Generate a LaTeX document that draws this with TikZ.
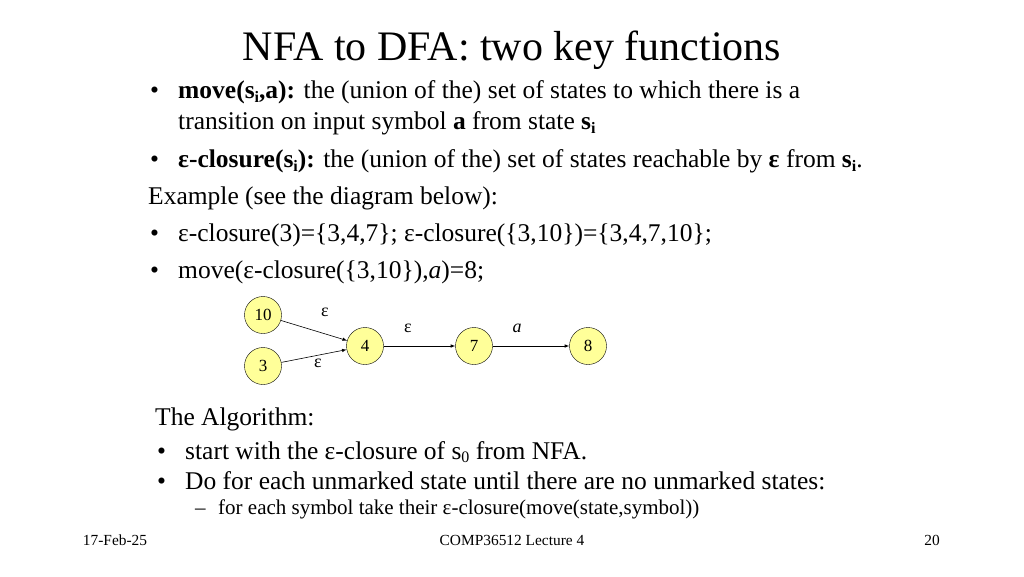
\documentclass[tikz,border=0pt]{standalone}
\usepackage{fontspec}
\setmainfont{Liberation Serif}
\begin{document}
\begin{tikzpicture}[x=1pt,y=-1pt,
  st/.style={circle,draw,fill={rgb,255:red,255;green,255;blue,153},minimum size=37pt,inner sep=0pt,font=\fontsize{17}{18}\selectfont},
  tx/.style={anchor=base west,inner sep=0pt,font=\fontsize{25.5}{28}\selectfont},
  sm/.style={anchor=base west,inner sep=0pt,font=\fontsize{21}{24}\selectfont},
  ft/.style={anchor=base,inner sep=0pt,font=\fontsize{15.4}{17}\selectfont},
  lb/.style={font=\fontsize{18}{20}\selectfont,inner sep=0pt},
  ar/.style={-latex,semithick}]
\useasboundingbox (0,0) rectangle (1024,576);
\node[anchor=base,inner sep=0pt,font=\fontsize{42}{46}\selectfont] (title) at (512,60) {NFA to DFA: two key functions};
\node[tx] (b1) at (150,98) {•};
\node[tx] (l1) at (178,98) {\textbf{move(s\raisebox{-0.4ex}{\fontsize{16}{18}\selectfont i},a):} the (union of the) set of states to which there is a};
\node[tx] (l2) at (178,129) {transition on input symbol \textbf{a} from state \textbf{s\raisebox{-0.4ex}{\fontsize{16}{18}\selectfont i}}};
\node[tx] (b3) at (150,167) {•};
\node[tx] (l3) at (178,167) {\textbf{ε-closure(s\raisebox{-0.4ex}{\fontsize{16}{18}\selectfont i}):} the (union of the) set of states reachable by \textbf{ε} from \textbf{s\raisebox{-0.4ex}{\fontsize{16}{18}\selectfont i}}.};
\node[tx] (ex) at (148,204) {Example (see the diagram below):};
\node[tx] (b4) at (150,241) {•};
\node[tx] (l4) at (178,241) {ε-closure(3)=\{3,4,7\}; ε-closure(\{3,10\})=\{3,4,7,10\};};
\node[tx] (b5) at (150,278) {•};
\node[tx] (l5) at (178,278) {move(ε-closure(\{3,10\}),\textit{a})=8;};

\node[st] (n10) at (263,315) {10};
\node[st] (n3) at (263,366) {3};
\node[st] (n4) at (365,346) {4};
\node[st] (n7) at (474,346) {7};
\node[st] (n8) at (588,346) {8};
\draw[ar] (n10) -- (n4);
\draw[ar] (n3) -- (n4);
\draw[ar] (n4) -- (n7);
\draw[ar] (n7) -- (n8);
\node[lb] (e1) at (325,312) {ε};
\node[lb] (e2) at (318,363) {ε};
\node[lb] (e3) at (408,328) {ε};
\node[lb] (e4) at (517,328) {\textit{a}};

\node[tx] (alg) at (155,425) {The Algorithm:};
\node[tx] (b6) at (157,459) {•};
\node[tx] (l6) at (185,459) {start with the ε-closure of s\raisebox{-0.3ex}{\fontsize{16}{18}\selectfont 0} from NFA.};
\node[tx] (b7) at (157,489) {•};
\node[tx] (l7) at (185,489) {Do for each unmarked state until there are no unmarked states:};
\node[sm] (d8) at (195,514) {–};
\node[sm] (l8) at (218,514) {for each symbol take their ε-closure(move(state,symbol))};

\node[ft] (f1) at (115,545) {17-Feb-25};
\node[ft] (f2) at (512,545) {COMP36512 Lecture 4};
\node[ft] (f3) at (932,545) {20};
\end{tikzpicture}
\end{document}
